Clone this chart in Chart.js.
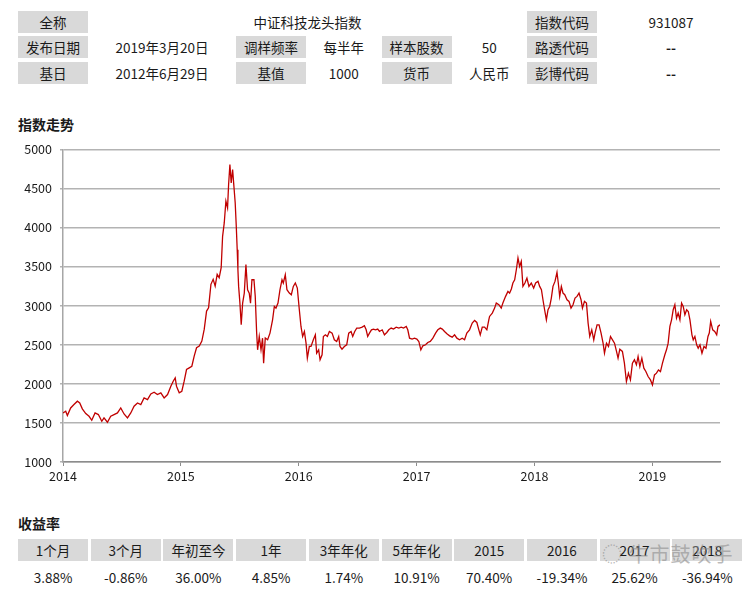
<!DOCTYPE html>
<html>
<head>
<meta charset="utf-8">
<script src="https://cdn.jsdelivr.net/npm/chart.js@4.4.0/dist/chart.umd.min.js"></script>
<style>
  body { margin: 0; background: #fff; width: 751px; height: 595px; position: relative; overflow: hidden;
         font-family: "Noto Sans CJK SC", "Noto Sans", sans-serif; color: #1a1a1a; }
  .cell { position: absolute; height: 22px; line-height: 22px; text-align: center; font-size: 13.5px; }
  .gray { background: #d9d9d9; }
  .title { position: absolute; left: 18px; font-size: 14px; font-weight: bold; }
  #box { position: absolute; left: 0; top: 134px; width: 740px; height: 356px; }
  .mark { position: absolute; left: 602px; top: 539px; font-size: 20px; color: rgba(140,140,140,0.6); letter-spacing: 1px; }
</style>
</head>
<body>
<div id="info"></div>
<div class="title" style="top:114px">指数走势</div>
<div id="box"><canvas id="indexChart"></canvas></div>
<div class="title" style="top:513px">收益率</div>
<div id="returns"></div>
<div class="mark">◌ 牛市鼓吹手</div>

<script>
// index trend, x as fractional year
const dates = [
  2014.000, 2014.023, 2014.037, 2014.065, 2014.093, 2014.122, 2014.142, 2014.164, 2014.193, 2014.221,
  2014.244, 2014.272, 2014.300, 2014.329, 2014.348, 2014.377, 2014.405, 2014.433, 2014.462, 2014.490,
  2014.518, 2014.547, 2014.575, 2014.603, 2014.632, 2014.660, 2014.688, 2014.717, 2014.745, 2014.773,
  2014.801, 2014.830, 2014.858, 2014.887, 2014.915, 2014.935, 2014.952, 2014.963, 2014.986, 2015.008,
  2015.028, 2015.048, 2015.071, 2015.093, 2015.113, 2015.133, 2015.156, 2015.178, 2015.198, 2015.218,
  2015.235, 2015.255, 2015.274, 2015.291, 2015.308, 2015.325, 2015.342, 2015.354, 2015.368, 2015.382,
  2015.396, 2015.405, 2015.416, 2015.427, 2015.439, 2015.450, 2015.461, 2015.470, 2015.478, 2015.484,
  2015.490, 2015.501, 2015.512, 2015.524, 2015.538, 2015.552, 2015.566, 2015.580, 2015.591, 2015.603,
  2015.620, 2015.631, 2015.643, 2015.651, 2015.665, 2015.680, 2015.693, 2015.702, 2015.716, 2015.736,
  2015.756, 2015.778, 2015.793, 2015.807, 2015.824, 2015.841, 2015.858, 2015.869, 2015.886, 2015.900,
  2015.920, 2015.937, 2015.954, 2015.971, 2015.988, 2016.005, 2016.019, 2016.033, 2016.048, 2016.062,
  2016.073, 2016.090, 2016.104, 2016.124, 2016.141, 2016.152, 2016.169, 2016.181, 2016.198, 2016.209,
  2016.226, 2016.243, 2016.260, 2016.283, 2016.302, 2016.322, 2016.339, 2016.350, 2016.367, 2016.387,
  2016.407, 2016.424, 2016.444, 2016.458, 2016.475, 2016.492, 2016.515, 2016.538, 2016.557, 2016.572,
  2016.585, 2016.600, 2016.617, 2016.634, 2016.651, 2016.670, 2016.685, 2016.708, 2016.727, 2016.747,
  2016.764, 2016.784, 2016.804, 2016.827, 2016.849, 2016.869, 2016.889, 2016.912, 2016.925, 2016.940,
  2016.962, 2016.982, 2017.002, 2017.019, 2017.036, 2017.053, 2017.076, 2017.095, 2017.116, 2017.138,
  2017.161, 2017.180, 2017.201, 2017.218, 2017.237, 2017.257, 2017.280, 2017.302, 2017.322, 2017.342,
  2017.364, 2017.387, 2017.407, 2017.426, 2017.449, 2017.472, 2017.492, 2017.511, 2017.528, 2017.540,
  2017.557, 2017.577, 2017.596, 2017.613, 2017.619, 2017.642, 2017.662, 2017.676, 2017.698, 2017.718,
  2017.732, 2017.755, 2017.775, 2017.789, 2017.804, 2017.817, 2017.832, 2017.846, 2017.860, 2017.874,
  2017.888, 2017.902, 2017.919, 2017.936, 2017.953, 2017.973, 2017.993, 2018.010, 2018.030, 2018.044,
  2018.059, 2018.072, 2018.086, 2018.101, 2018.115, 2018.129, 2018.143, 2018.157, 2018.174, 2018.191,
  2018.202, 2018.214, 2018.228, 2018.242, 2018.257, 2018.276, 2018.293, 2018.310, 2018.327, 2018.344,
  2018.361, 2018.378, 2018.395, 2018.407, 2018.424, 2018.441, 2018.455, 2018.469, 2018.486, 2018.503,
  2018.514, 2018.531, 2018.548, 2018.565, 2018.582, 2018.594, 2018.611, 2018.628, 2018.645, 2018.662,
  2018.679, 2018.696, 2018.709, 2018.724, 2018.746, 2018.763, 2018.780, 2018.797, 2018.814, 2018.831,
  2018.848, 2018.865, 2018.879, 2018.894, 2018.911, 2018.928, 2018.945, 2018.964, 2018.984, 2019.001,
  2019.018, 2019.035, 2019.052, 2019.069, 2019.086, 2019.106, 2019.120, 2019.134, 2019.149, 2019.163,
  2019.177, 2019.191, 2019.205, 2019.219, 2019.234, 2019.248, 2019.262, 2019.276, 2019.291, 2019.305,
  2019.319, 2019.336, 2019.347, 2019.361, 2019.376, 2019.389, 2019.404, 2019.421, 2019.438, 2019.455,
  2019.472, 2019.483, 2019.495, 2019.512, 2019.529, 2019.546, 2019.557, 2019.574
]
const values = [
  1628, 1650, 1594, 1692, 1735, 1778, 1756, 1680, 1620, 1585,
  1534, 1628, 1607, 1521, 1564, 1509, 1585, 1607, 1628, 1692,
  1615, 1564, 1628, 1714, 1756, 1735, 1820, 1799, 1872, 1893,
  1863, 1885, 1820, 1863, 1970, 2034, 2077, 1970, 1885, 1906,
  2034, 2184, 2205, 2226, 2355, 2462, 2483, 2547, 2697, 2932,
  2974, 3274, 3338, 3252, 3402, 3359, 3487, 3889, 4060, 4338,
  4252, 4551, 4808, 4573, 4744, 4530, 4316, 4017, 3718, 3461,
  3248, 3034, 2756, 3034, 3162, 3526, 3205, 3162, 3034, 3333,
  3333, 3120, 2650, 2436, 2607, 2436, 2585, 2265, 2586, 2564,
  2650, 2820, 2991, 2970, 3034, 3205, 3333, 3291, 3397, 3205,
  3162, 3141, 3248, 3291, 3226, 2949, 2735, 2607, 2671, 2521,
  2329, 2479, 2479, 2564, 2628, 2393, 2436, 2308, 2372, 2607,
  2628, 2607, 2671, 2650, 2564, 2543, 2607, 2479, 2444, 2479,
  2500, 2650, 2671, 2607, 2671, 2714, 2714, 2726, 2744, 2692,
  2607, 2650, 2692, 2701, 2692, 2701, 2671, 2692, 2628, 2658,
  2692, 2714, 2701, 2726, 2714, 2726, 2714, 2735, 2692, 2585,
  2573, 2585, 2573, 2543, 2436, 2487, 2500, 2530, 2543, 2585,
  2650, 2692, 2714, 2701, 2671, 2641, 2615, 2598, 2628, 2585,
  2564, 2585, 2564, 2650, 2692, 2778, 2812, 2786, 2692, 2628,
  2726, 2726, 2692, 2821, 2863, 2906, 2970, 3034, 3013, 2970,
  3034, 3120, 3184, 3162, 3214, 3291, 3333, 3461, 3611, 3504,
  3568, 3248, 3291, 3355, 3248, 3291, 3226, 3291, 3312, 3248,
  3205, 3077, 2949, 2820, 2949, 2991, 3098, 3248, 3312, 3427,
  3291, 3120, 3248, 3162, 3141, 3077, 3056, 2970, 3013, 3098,
  3120, 3162, 3077, 2970, 3056, 3034, 2778, 2607, 2692, 2564,
  2650, 2756, 2756, 2650, 2521, 2393, 2521, 2479, 2607, 2564,
  2521, 2415, 2329, 2444, 2415, 2265, 2030, 2137, 2051, 2265,
  2308, 2244, 2351, 2222, 2329, 2201, 2158, 2094, 2051, 1987,
  2115, 2137, 2179, 2158, 2265, 2372, 2436, 2521, 2735, 2820,
  2949, 3013, 2842, 2906, 2820, 3034, 2991, 2885, 2949, 2927,
  2820, 2628, 2564, 2607, 2500, 2457, 2500, 2393, 2479, 2457,
  2607, 2650, 2799, 2692, 2671, 2628, 2735, 2756
]
const yearTicks = [2014, 2015, 2016, 2017, 2018, 2019]

// info table
const infoRows = [
  [['全称', 0, 1, true], ['中证科技龙头指数', 1, 6], ['指数代码', 7, 1, true], ['931087', 8, 2]],
  [['发布日期', 0, 1, true], ['2019年3月20日', 1, 2], ['调样频率', 3, 1, true], ['每半年', 4, 1],
   ['样本股数', 5, 1, true], ['50', 6, 1], ['路透代码', 7, 1, true], ['--', 8, 2]],
  [['基日', 0, 1, true], ['2012年6月29日', 1, 2], ['基值', 3, 1, true], ['1000', 4, 1],
   ['货币', 5, 1, true], ['人民币', 6, 1], ['彭博代码', 7, 1, true], ['--', 8, 2]]
]
const infoTops = [11, 36, 62]

const returnLabels = ['1个月', '3个月', '年初至今', '1年', '3年年化', '5年年化', '2015', '2016', '2017', '2018']
const returnValues = ['3.88%', '-0.86%', '36.00%', '4.85%', '1.74%', '10.91%', '70.40%', '-19.34%', '25.62%', '-36.94%']

const pitch = 72.7
function cell(parent, text, col, span, top, gray) {
  const d = document.createElement('div')
  d.className = 'cell' + (gray ? ' gray' : '')
  d.style.left = (18 + col * pitch) + 'px'
  d.style.width = (span * pitch - 2.7) + 'px'
  d.style.top = top + 'px'
  d.textContent = text
  if (text === '--') d.style.fontWeight = 'bold'
  parent.appendChild(d)
}

const info = document.getElementById('info')
infoRows.forEach((row, r) => {
  row.forEach(c => cell(info, c[0], c[1], c[2], infoTops[r], c[3]))
})

const ret = document.getElementById('returns')
returnLabels.forEach((t, i) => cell(ret, t, i, 1, 539, true))
returnValues.forEach((t, i) => cell(ret, t, i, 1, 566, false))

const points = dates.map((d, i) => ({ x: d, y: values[i] }))

const ctx = document.getElementById('indexChart').getContext('2d')
const indexChart = new Chart(ctx, {
  type: 'line',
  data: {
    datasets: [{
      data: points,
      borderColor: '#c00000',
      borderWidth: 1.3,
      pointRadius: 0,
      tension: 0,
      fill: false
    }]
  },
  options: {
    responsive: true,
    maintainAspectRatio: false,
    animation: false,
    layout: { padding: { top: 3, right: 20, left: 0, bottom: 0 } },
    plugins: { legend: { display: false }, tooltip: { enabled: false } },
    scales: {
      x: {
        type: 'linear',
        min: 2014,
        max: 2019.574,
        afterBuildTicks: scale => { scale.ticks = yearTicks.map(v => ({ value: v })) },
        afterFit: scale => { scale.height = 28 },
        grid: { drawOnChartArea: false, drawTicks: true, tickLength: 4, color: '#8c8c8c', lineWidth: 1 },
        border: { color: '#8c8c8c', width: 1.5 },
        ticks: {
          color: '#1a1a1a', padding: 3,
          font: { family: 'Noto Sans CJK SC', size: 12.5 },
          maxRotation: 0,
          callback: v => String(v)
        }
      },
      y: {
        min: 1000,
        max: 5000,
        afterFit: scale => { scale.width = 63 },
        grid: { color: '#b3b3b3', lineWidth: 1.5, tickLength: 3 },
        border: { color: '#a6a6a6', width: 1.5 },
        ticks: {
          stepSize: 500, color: '#1a1a1a', padding: 8,
          font: { family: 'Noto Sans CJK SC', size: 12.5 },
          callback: v => String(v)
        }
      }
    }
  }
})
</script>
</body>
</html>
